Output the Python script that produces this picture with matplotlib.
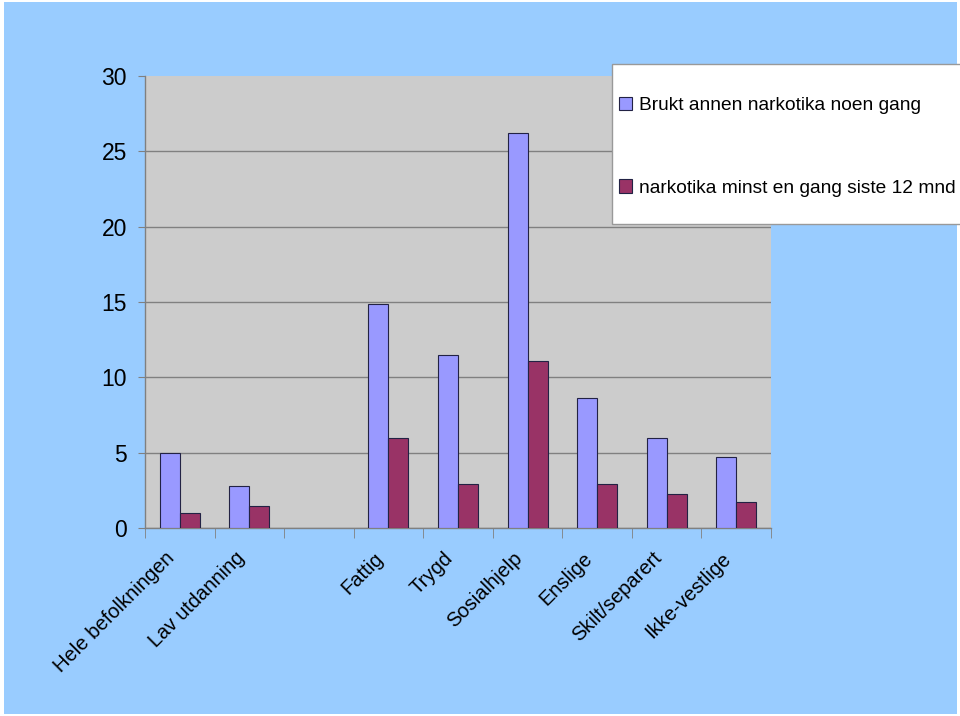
import matplotlib.pyplot as plt
import matplotlib.transforms as mtransforms
import numpy as np

plt.rcParams['font.family'] = ['Liberation Sans', 'DejaVu Sans']

categories = ["Hele befolkningen", "Lav utdanning", "", "Fattig", "Trygd",
              "Sosialhjelp", "Enslige", "Skilt/separert", "Ikke-vestlige"]
noen_gang = [5.0, 2.8, np.nan, 14.9, 11.5, 26.2, 8.6, 6.0, 4.7]
siste_12 = [1.0, 1.45, np.nan, 6.0, 2.9, 11.1, 2.9, 2.25, 1.7]
labels = ["Brukt annen narkotika noen gang", "narkotika minst en gang siste 12 mnd"]

BG = "#99CCFF"
fig = plt.figure(figsize=(9.6, 7.16), dpi=100, facecolor="white")
# blue chart area with thin white rim
fig.patches.append(plt.Rectangle((4/960, 2/716), 953/960, 712/716, transform=fig.transFigure,
                                 facecolor=BG, edgecolor="none", zorder=-5))

ax = fig.add_axes([145/960, 1-528/716, 626/960, 452/716])
ax.set_facecolor("#CCCCCC")

x = np.arange(len(categories))
w = 0.287
ax.bar(x - w/2, noen_gang, w, color="#9999FF", edgecolor="#222244", linewidth=0.8,
       label=labels[0], zorder=3)
ax.bar(x + w/2, siste_12, w, color="#993366", edgecolor="#222244", linewidth=0.8,
       label=labels[1], zorder=3)

ax.set_xlim(-0.5, len(categories) - 0.5)
ax.set_ylim(0, 30)
ax.set_yticks(range(0, 31, 5))
ax.yaxis.grid(True, color="#808080", linewidth=1)
ax.get_ygridlines()[-1].set_visible(False)
ax.set_axisbelow(True)
for s in ["top", "right"]:
    ax.spines[s].set_visible(False)
for s in ["left", "bottom"]:
    ax.spines[s].set_color("#808080")
    ax.spines[s].set_linewidth(1)

ax.tick_params(axis="y", direction="out", length=5, color="#808080", pad=8, labelsize=16.5)
ax.set_xticks(x)
ax.set_xticklabels(categories, rotation=45, ha="right", va="center",
                   rotation_mode="anchor", fontsize=14.5)
ax.tick_params(axis="x", which="major", length=0, pad=24)
ax.set_xticks(np.arange(-0.5, len(categories)), minor=True)
ax.tick_params(axis="x", which="minor", direction="out", length=7, color="#808080")
shift = mtransforms.ScaledTranslation(-0.08, 0.06, fig.dpi_scale_trans)
for lab in ax.get_xticklabels():
    lab.set_transform(lab.get_transform() + shift)

# legend box running off the right edge
box = plt.Rectangle((612/960, 1-224/716), 0.5, 160/716, transform=fig.transFigure,
                    facecolor="white", edgecolor="#999999", linewidth=1, zorder=5)
fig.patches.append(box)
leg = fig.legend(loc="upper left", bbox_to_anchor=(619/960, 1-97/716), frameon=False,
                 fontsize=13.75, handlelength=0.7, handleheight=0.7, handletextpad=0.35,
                 labelspacing=3.4, borderpad=0, borderaxespad=0)
for h in leg.legend_handles:
    h.set_linewidth(0.8)
leg.set_zorder(6)

fig.savefig("out.png", dpi=100, facecolor="white")
